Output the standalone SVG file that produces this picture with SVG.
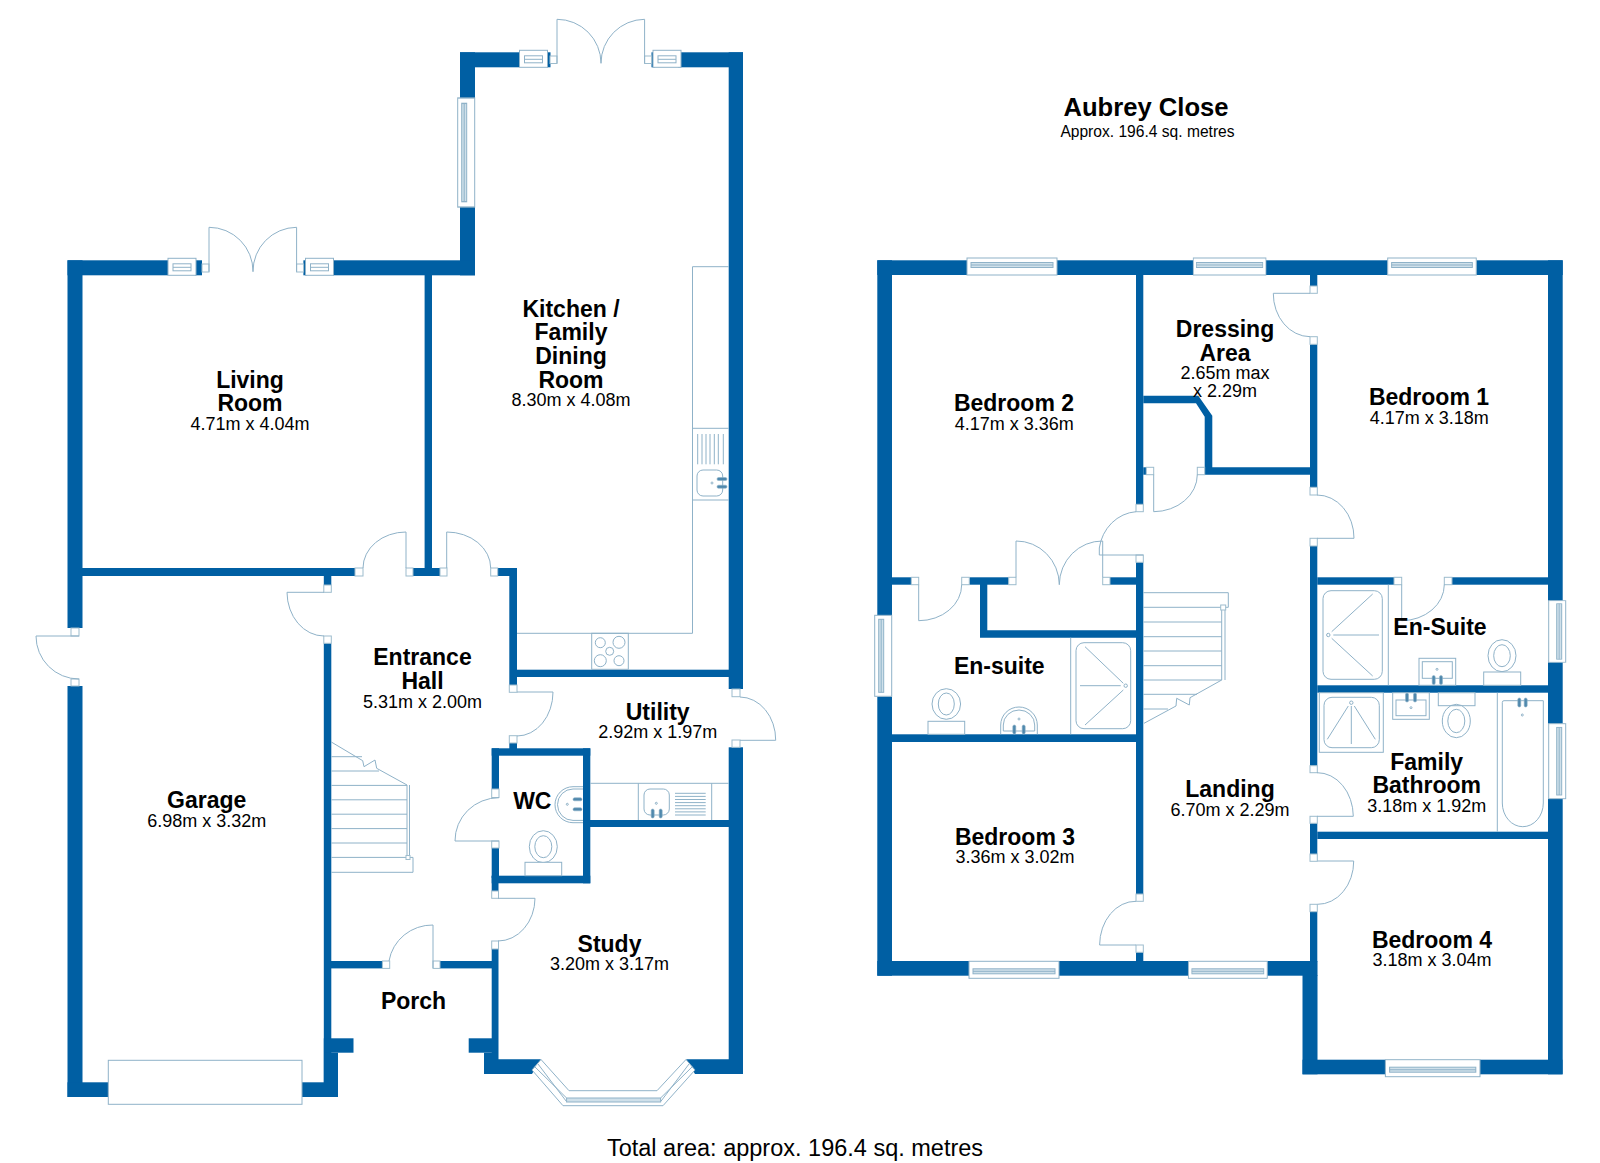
<svg xmlns="http://www.w3.org/2000/svg" width="1600" height="1163" viewBox="0 0 1600 1163">
<style>
.bg{fill:#fff}
.w{fill:#005fa3}
.l{fill:none;stroke:#8fb2c8;stroke-width:1}
.g{fill:#fff;stroke:#8fb2c8;stroke-width:1}
.t{fill:#4f88ad;stroke:#8fb2c8;stroke-width:.6}
.j{fill:#fff;stroke:#9dbccd;stroke-width:1}
.gl{fill:#cfe0ea;stroke:#8fb2c8;stroke-width:1}
text{font-family:"Liberation Sans",Arial,sans-serif;fill:#000;text-anchor:middle}
.n{font-size:23px;font-weight:bold}
.d{font-size:18px}
</style>
<defs>
<g id="wh"><rect class="g" x="0" y="0" width="90" height="17"/><rect class="gl" x="4" y="4.5" width="82" height="5"/><path class="l" d="M4 7H86"/></g>
<g id="wv"><rect class="g" x="0" y="0" width="17" height="81"/><rect class="gl" x="4" y="4" width="5" height="73"/><path class="l" d="M6.5 4V77"/></g>
<g id="ws"><rect class="g" x="0" y="0" width="28" height="17"/><rect class="l" x="5" y="5.500" width="18" height="7"/><path class="l" d="M5 9H23"/></g>
</defs>
<rect class="bg" width="1600" height="1163"/>

<g id="ground-walls">
<rect class="w" x="460" y="52.3" width="59" height="15"/>
<rect class="w" x="547" y="52.3" width="3.5" height="15"/>
<rect class="w" x="651.5" y="52.3" width="3.5" height="15"/>
<rect class="w" x="678" y="52.3" width="65" height="15"/>
<rect class="w" x="460" y="52.3" width="15" height="46"/>
<rect class="w" x="460" y="207" width="15" height="68.3"/>
<rect class="w" x="728.7" y="52.3" width="14.3" height="636.7"/>
<rect class="w" x="728.7" y="747.3" width="14.3" height="326.7"/>
<rect class="w" x="67.5" y="260.3" width="100.5" height="15"/>
<rect class="w" x="195" y="260.3" width="7" height="15"/>
<rect class="w" x="303.4" y="260.3" width="3.6" height="15"/>
<rect class="w" x="333" y="260.3" width="142" height="15"/>
<rect class="w" x="67.5" y="260.3" width="15" height="367.7"/>
<rect class="w" x="67.5" y="686" width="15" height="411"/>
<rect class="w" x="424.6" y="275" width="7.4" height="301"/>
<rect class="w" x="413" y="568" width="27" height="8"/>
<rect class="w" x="82" y="568" width="273" height="8"/>
<rect class="w" x="323.8" y="576" width="7.5" height="9"/>
<rect class="w" x="323.8" y="643.3" width="7.5" height="453.7"/>
<rect class="w" x="67.5" y="1082.3" width="41" height="14.7"/>
<rect class="w" x="302" y="1082.3" width="36" height="14.7"/>
<rect class="w" x="323.8" y="1052.7" width="14.2" height="44.3"/>
<rect class="w" x="323.8" y="1038.3" width="29.7" height="14.4"/>
<rect class="w" x="330" y="961" width="52.4" height="7.4"/>
<rect class="w" x="440" y="961" width="52" height="7.4"/>
<rect class="w" x="491.7" y="949" width="6.8" height="125"/>
<rect class="w" x="468.7" y="1038.3" width="29" height="14.4"/>
<rect class="w" x="491.7" y="875.7" width="98.6" height="7.6"/>
<rect class="w" x="491.7" y="875.7" width="6.8" height="15.3"/>
<rect class="w" x="583" y="748.3" width="7.3" height="135"/>
<rect class="w" x="491.7" y="748.3" width="98.6" height="7.4"/>
<rect class="w" x="491.7" y="748.3" width="7.3" height="41"/>
<rect class="w" x="491.7" y="848" width="7.3" height="30"/>
<rect class="w" x="590" y="820" width="139" height="7"/>
<rect class="w" x="517" y="669.7" width="212" height="7.3"/>
<rect class="w" x="497.7" y="568" width="19.3" height="8"/>
<rect class="w" x="509.3" y="568" width="7.7" height="117"/>
<rect class="w" x="509.3" y="743" width="7.7" height="6"/>
<polygon class="w" points="484,1052.7 498,1052.7 498,1059.3 541,1059.3 532,1074 484,1074"/>
<polygon class="w" points="686,1059.3 743,1059.3 743,1074 695,1074"/>
</g>

<g id="ground-openings">
<use href="#ws" x="168" y="258.3"/>
<use href="#ws" x="305.5" y="258.3"/>
<use href="#ws" x="519.5" y="50.3"/>
<use href="#ws" x="653" y="50.3"/>
<g transform="translate(457.7,98) scale(1,1.346)"><use href="#wv"/></g>
<rect class="j" x="202" y="264" width="7" height="8"/><rect class="j" x="296.6" y="264" width="7" height="8"/>
<rect class="j" x="550" y="56" width="7" height="7.5"/><rect class="j" x="644.6" y="56" width="7" height="7.5"/>
<rect class="j" x="71" y="628" width="8" height="8"/><rect class="j" x="71" y="679" width="8" height="7"/>
<rect class="j" x="355" y="568" width="8" height="8"/><rect class="j" x="406" y="568" width="7" height="8"/>
<rect class="j" x="440" y="568" width="7" height="8"/><rect class="j" x="490.7" y="568" width="7" height="8"/>
<rect class="j" x="323.8" y="585" width="7.5" height="7.3"/><rect class="j" x="323.8" y="636" width="7.5" height="7.3"/>
<rect class="j" x="509.3" y="685" width="7.7" height="7.3"/><rect class="j" x="509.3" y="735.7" width="7.7" height="7.3"/>
<rect class="j" x="732" y="689" width="8" height="7.7"/><rect class="j" x="732" y="740" width="8" height="7.3"/>
<rect class="j" x="491.7" y="789" width="7.3" height="8.5"/><rect class="j" x="491.7" y="841" width="7.3" height="7"/>
<rect class="j" x="491.7" y="891" width="6.8" height="7.3"/><rect class="j" x="491.7" y="941" width="6.8" height="8"/>
<rect class="j" x="382.4" y="961" width="7.3" height="7.4"/><rect class="j" x="433" y="961" width="7" height="7.4"/>
<rect class="g" x="108.3" y="1060.3" width="193.7" height="44"/>
<polygon class="g" points="532,1070 541,1059.5 569,1090.7 657,1090.7 686,1059.5 695,1070 663,1105.7 563,1105.7"/>
<path class="l" d="M535 1067L566.600 1098M538 1064L566.600 1101.700M692 1067L660.600 1098M689 1064L660.600 1101.700"/>
<rect class="gl" x="566.600" y="1098" width="94" height="4"/>
<path class="l" d="M209 271.700V227.300A44 44 0 0 1 253 271.700M296.600 271.700V227.300A44 44 0 0 0 253 271.700"/>
<path class="l" d="M557 63.300V19.300A44 44 0 0 1 601 63.300M644.600 63.300V19.300A44 44 0 0 0 601 63.300"/>
<path class="l" d="M79 636H36A43 43 0 0 0 79 679"/>
<path class="l" d="M406 568V532A43 36 0 0 0 363 568"/>
<path class="l" d="M446.700 568V532A44 36 0 0 1 490.700 568"/>
<path class="l" d="M324 592.300H287A37 44 0 0 0 324 636"/>
<path class="l" d="M517 692H553A36 44 0 0 1 517 736"/>
<path class="l" d="M740 740.300H775.700A36 43 0 0 0 740 697"/>
<path class="l" d="M499 841H455A44 43 0 0 1 499 797.700"/>
<path class="l" d="M498 898.300H535A37 43 0 0 1 498 941"/>
<path class="l" d="M433 968V925A44 43 0 0 0 389 961"/>
</g>

<g id="ground-fixtures">
<path class="l" d="M728.700 266.700H692.500V633.300H517M692.500 428.300H728.700M692.500 500H728.700"/>
<rect class="l" x="591.700" y="633.300" width="36.600" height="36"/>
<circle class="l" cx="600.300" cy="642.700" r="5"/><circle class="l" cx="619" cy="642.300" r="6"/><circle class="l" cx="609.700" cy="651.300" r="4"/><circle class="l" cx="600.300" cy="660.700" r="6"/><circle class="l" cx="619" cy="660.700" r="5"/>
<path class="l" d="M697.700 434V464.300M702 434V464.300M706 434V464.300M710 434V464.300M714.300 434V464.300M718.300 434V464.300M723.300 434V464.300"/>
<rect class="l" x="697" y="470" width="25.700" height="26" rx="6"/>
<circle class="l" cx="712" cy="483" r="1"/>
<rect class="t" x="717" y="477.500" width="10" height="3" rx="1.500"/><rect class="t" x="717" y="485.200" width="10" height="3" rx="1.500"/>
<path class="l" d="M331.300 742L362.700 760.700L364 766.700L375 760L376.700 768.300L407 785V857.400M409.500 785V857.400M331.300 756.700H362M331.300 771H379M331.300 785.400H407M331.300 799.800H407M331.300 814.200H407M331.300 828.600H407M331.300 843H407M331.300 857.400H413V872.300H331.300"/>
<rect class="j" x="406" y="855.500" width="4" height="4"/>
<path class="l" d="M590.300 783.300H728.700M638.300 783.300V820M711.700 783.300V820"/>
<rect class="l" x="644" y="789" width="25.300" height="26" rx="6"/>
<circle class="l" cx="656.300" cy="803.300" r="1"/>
<path class="l" d="M675 793.300H705.700M675 796.400H705.700M675 799.500H705.700M675 802.600H705.700M675 805.700H705.700M675 808.800H705.700M675 811.900H705.700M675 815H705.700"/>
<rect class="t" x="651.200" y="809" width="3" height="9" rx="1.500"/><rect class="t" x="659.200" y="809" width="3" height="9" rx="1.500"/>
<path class="l" d="M583 786.700H573A18 18 0 0 0 573 822.700H583M583 789H573A15.500 15.700 0 0 0 573 820.400H583"/>
<circle class="l" cx="567.300" cy="804.300" r="1"/>
<rect class="t" x="573" y="797.800" width="9" height="3" rx="1.500"/><rect class="t" x="573" y="807.800" width="9" height="3" rx="1.500"/>
<ellipse class="l" cx="543.300" cy="846.700" rx="14" ry="16"/><ellipse class="l" cx="543.300" cy="846.700" rx="8.500" ry="11"/>
<rect class="g" x="525" y="862.300" width="36.700" height="13.400"/>
</g>

<g id="upper-walls">
<rect class="w" x="877.300" y="260.300" width="89.700" height="14.700"/>
<rect class="w" x="1057" y="260.300" width="136.300" height="14.700"/>
<rect class="w" x="1266" y="260.300" width="121.700" height="14.700"/>
<rect class="w" x="1476.300" y="260.300" width="86.400" height="14.700"/>
<rect class="w" x="877.300" y="260.300" width="14.700" height="355"/>
<rect class="w" x="877.300" y="696.700" width="14.700" height="279"/>
<rect class="w" x="877.300" y="961" width="91.700" height="14.700"/>
<rect class="w" x="1059" y="961" width="129.400" height="14.700"/>
<rect class="w" x="1267.200" y="961" width="50.300" height="14.700"/>
<rect class="w" x="1136" y="275" width="7.300" height="229.300"/>
<rect class="w" x="1136" y="562.300" width="7.300" height="331.700"/>
<rect class="w" x="1136" y="952.300" width="7.300" height="9"/>
<polygon class="w" points="1143.300,395.700 1198.300,395.700 1212.300,415.700 1212.300,467.300 1317,467.300 1317,474.700 1204.700,474.700 1204.700,416.700 1196,403.300 1143.300,403.300"/>
<rect class="w" x="1143.300" y="467.300" width="3" height="7.400"/>
<rect class="w" x="892" y="577.300" width="19.300" height="7.400"/>
<rect class="w" x="969.300" y="577.300" width="39.400" height="7.400"/>
<rect class="w" x="1110" y="577.300" width="26" height="7.400"/>
<polygon class="w" points="980,584 987.300,584 987.300,630.300 1136,630.300 1136,637.700 980,637.700"/>
<rect class="w" x="892" y="734.300" width="244" height="7.700"/>
<rect class="w" x="1310" y="275" width="7.300" height="11"/>
<rect class="w" x="1310" y="344.300" width="7.300" height="143"/>
<rect class="w" x="1310" y="546" width="7.300" height="219.700"/>
<rect class="w" x="1310" y="823.300" width="7.300" height="30.700"/>
<rect class="w" x="1310" y="911.700" width="7.300" height="50"/>
<rect class="w" x="1302.500" y="975" width="15" height="99.300"/>
<rect class="w" x="1302.500" y="1059.700" width="82.900" height="14.600"/>
<rect class="w" x="1480" y="1059.700" width="82.500" height="14.600"/>
<rect class="w" x="1317.300" y="577.300" width="76.700" height="7.400"/>
<rect class="w" x="1452" y="577.300" width="96.300" height="7.400"/>
<rect class="w" x="1317.300" y="685.300" width="231" height="7.400"/>
<rect class="w" x="1317.300" y="831.700" width="231" height="7.300"/>
<rect class="w" x="1548" y="260.300" width="14.700" height="340.400"/>
<rect class="w" x="1548" y="662.300" width="14.700" height="61.400"/>
<rect class="w" x="1548" y="798.700" width="14.700" height="275.600"/>
</g>

<g id="upper-openings">
<use href="#wh" x="967" y="258"/>
<g transform="translate(1193.300,258) scale(.807,1)"><use href="#wh"/></g>
<g transform="translate(1387.700,258) scale(.984,1)"><use href="#wh"/></g>
<g transform="translate(969,978.300) scale(1,-1)"><use href="#wh"/></g>
<g transform="translate(1188.400,978.300) scale(.876,-1)"><use href="#wh"/></g>
<g transform="translate(1385.400,1076.700) scale(1.051,-1)"><use href="#wh"/></g>
<g transform="translate(874.700,615.300)"><use href="#wv"/></g>
<g transform="translate(1565.700,600.700) scale(-1,.76)"><use href="#wv"/></g>
<g transform="translate(1565.700,723.700) scale(-1,.926)"><use href="#wv"/></g>
<rect class="j" x="911.300" y="577.300" width="7.400" height="7.400"/><rect class="j" x="961.700" y="577.300" width="7.600" height="7.400"/>
<rect class="j" x="1008.700" y="577.300" width="7.300" height="7.400"/><rect class="j" x="1102.700" y="577.300" width="7.300" height="7.400"/>
<rect class="j" x="1136" y="504.300" width="7.300" height="7.400"/><rect class="j" x="1136" y="555" width="7.300" height="7.300"/>
<rect class="j" x="1146.300" y="467.300" width="7.400" height="7.400"/><rect class="j" x="1197.300" y="467.300" width="7.400" height="7.400"/>
<rect class="j" x="1310" y="286" width="7.300" height="7.300"/><rect class="j" x="1310" y="336.700" width="7.300" height="7.600"/>
<rect class="j" x="1310" y="487.300" width="7.300" height="7.700"/><rect class="j" x="1310" y="538.300" width="7.300" height="7.700"/>
<rect class="j" x="1394" y="577.300" width="7.700" height="7.400"/><rect class="j" x="1444.300" y="577.300" width="7.700" height="7.400"/>
<rect class="j" x="1310" y="765.700" width="7.300" height="7"/><rect class="j" x="1310" y="816.300" width="7.300" height="7"/>
<rect class="j" x="1310" y="854" width="7.300" height="7.300"/><rect class="j" x="1310" y="904.300" width="7.300" height="7.400"/>
<rect class="j" x="1136" y="894" width="7.300" height="7.300"/><rect class="j" x="1136" y="945" width="7.300" height="7.300"/>
<path class="l" d="M1143.300 555H1099.300V548A40 43 0 0 1 1136 511.700"/>
<path class="l" d="M1153.700 474.700V511.700A44 37 0 0 0 1197.300 474.700"/>
<path class="l" d="M1016 577.300V541A43 44 0 0 1 1059.300 584.700M1102.700 577.300V541A43 44 0 0 0 1059.300 584.700"/>
<path class="l" d="M918.700 584.700V620.700A43 36 0 0 0 961.700 584.700"/>
<path class="l" d="M1310 293.300H1273.300A37 43 0 0 0 1310 336.700"/>
<path class="l" d="M1317 538.300H1354A37 43 0 0 0 1317 495"/>
<path class="l" d="M1401.700 584.700V620.700A43 36 0 0 0 1444.300 584.700"/>
<path class="l" d="M1317 816.300H1353.300A36 44 0 0 0 1317 772.700"/>
<path class="l" d="M1136 945H1099.600A36 44 0 0 1 1136 901.300"/>
<path class="l" d="M1317.500 861H1353.700A36 43 0 0 1 1317.500 904.300"/>
</g>

<g id="upper-fixtures">
<path class="l" d="M1143.300 592.700H1228.300V607.300H1225V680M1221.700 607.300V680L1190 697.700L1189.300 705L1176.700 698.300L1176 706L1144 723.300M1143.300 607.300H1221.700M1143.300 622H1221.700M1143.300 636.700H1221.700M1143.300 651H1221.700M1143.300 665.700H1221.700M1143.300 680H1221.700M1143.300 694.300H1197M1143.300 709H1168"/>
<rect class="j" x="1220.700" y="605" width="5" height="5"/>
<path class="l" d="M1070.700 637.700V734.300"/>
<rect class="l" x="1076" y="642.700" width="54.700" height="86" rx="8"/>
<path class="l" d="M1085 646.700L1123.300 683.300M1080 685.700H1120.700M1085 725L1123.300 690"/><circle class="l" cx="1125.700" cy="685.700" r="1.700"/>
<ellipse class="l" cx="946.300" cy="704" rx="14.300" ry="15.300"/><ellipse class="l" cx="946.300" cy="704" rx="8" ry="11"/>
<rect class="g" x="928" y="721.300" width="36.700" height="13"/>
<path class="l" d="M1000.700 734.300V725A18.300 18 0 0 1 1037.300 725V734.300M1003.300 731V725A15.700 15 0 0 1 1034.700 725V731H1003.300"/>
<circle class="l" cx="1019" cy="719" r="1"/>
<rect class="t" x="1012.800" y="725" width="3" height="9" rx="1.500"/><rect class="t" x="1022.200" y="725" width="3" height="9" rx="1.500"/>
<path class="l" d="M1388.300 584.700V685.300"/>
<rect class="l" x="1323" y="590.700" width="59.300" height="88.600" rx="8"/>
<path class="l" d="M1333.300 635H1379M1331.700 631.700L1372.700 594M1331.700 638.300L1372.700 676"/><circle class="l" cx="1328.300" cy="635" r="1.700"/>
<rect class="l" x="1419" y="658.300" width="36.700" height="27"/><rect class="l" x="1422.300" y="661.700" width="30" height="16.600"/>
<circle class="l" cx="1437" cy="669.300" r="1"/>
<rect class="t" x="1432.200" y="675.500" width="3" height="9" rx="1.500"/><rect class="t" x="1439.500" y="675.500" width="3" height="9" rx="1.500"/>
<ellipse class="l" cx="1502" cy="655.700" rx="14" ry="16"/><ellipse class="l" cx="1502" cy="655.700" rx="8.300" ry="11"/>
<rect class="g" x="1483.700" y="672" width="37" height="13.300"/>
<rect class="l" x="1319.300" y="692.700" width="64" height="59.600"/><rect class="l" x="1324" y="697.300" width="55.300" height="50.400" rx="8"/>
<path class="l" d="M1351.300 706V744M1348.300 706L1327.300 739.300M1354.300 706L1375.300 739.300"/><circle class="l" cx="1351.300" cy="702.700" r="1.700"/>
<rect class="l" x="1392.700" y="692.700" width="36.600" height="26.600"/><rect class="l" x="1396" y="700" width="30" height="15.700"/>
<circle class="l" cx="1411" cy="707.700" r="1"/>
<rect class="t" x="1405.500" y="693" width="3" height="9" rx="1.500"/><rect class="t" x="1413.500" y="693" width="3" height="9" rx="1.500"/>
<rect class="g" x="1438.300" y="692.700" width="36.700" height="13"/>
<ellipse class="l" cx="1456.300" cy="721" rx="14" ry="16.700"/><ellipse class="l" cx="1456.300" cy="721" rx="8.500" ry="11.700"/>
<path class="l" d="M1497.300 692.700V831.700M1504 700.700H1543.300V803A20.500 23.700 0 0 1 1502.300 803V702.400A1.700 1.700 0 0 1 1504 700.700"/>
<circle class="l" cx="1522.300" cy="715" r="1"/>
<rect class="t" x="1517.800" y="698" width="3" height="9" rx="1.500"/><rect class="t" x="1524.200" y="698" width="3" height="9" rx="1.500"/>
</g>

<g id="labels">
<text class="n" x="1146" y="116" style="font-size:25.6px">Aubrey Close</text>
<text x="1147.500" y="137" style="font-size:15.6px">Approx. 196.4 sq. metres</text>
<text x="795" y="1156" style="font-size:23.500px">Total area: approx. 196.4 sq. metres</text>
<g id="kitchen-label"><text class="n" x="571" y="316.700">Kitchen /</text><text class="n" x="571" y="340">Family</text><text class="n" x="571" y="364">Dining</text><text class="n" x="571" y="387.700">Room</text><text class="d" x="571" y="406">8.30m x 4.08m</text></g>
<g id="living-label"><text class="n" x="250" y="387.700">Living</text><text class="n" x="250" y="411">Room</text><text class="d" x="250" y="430">4.71m x 4.04m</text></g>
<g id="hall-label"><text class="n" x="422.500" y="665">Entrance</text><text class="n" x="422.500" y="689">Hall</text><text class="d" x="422.500" y="707.700">5.31m x 2.00m</text></g>
<g id="garage-label"><text class="n" x="206.700" y="808.300">Garage</text><text class="d" x="206.700" y="826.700">6.98m x 3.32m</text></g>
<g id="utility-label"><text class="n" x="657.700" y="720">Utility</text><text class="d" x="657.700" y="738.300">2.92m x 1.97m</text></g>
<g id="wc-label"><text class="n" x="532.300" y="809.300">WC</text></g>
<g id="study-label"><text class="n" x="609.500" y="951.700">Study</text><text class="d" x="609.500" y="970">3.20m x 3.17m</text></g>
<g id="porch-label"><text class="n" x="413.500" y="1009.300">Porch</text></g>
<g id="bed2-label"><text class="n" x="1014" y="411">Bedroom 2</text><text class="d" x="1014.300" y="430">4.17m x 3.36m</text></g>
<g id="dressing-label"><text class="n" x="1225" y="337.300">Dressing</text><text class="n" x="1225" y="361">Area</text><text class="d" x="1225" y="379.300">2.65m max</text><text class="d" x="1225" y="397.300">x 2.29m</text></g>
<g id="bed1-label"><text class="n" x="1429" y="405">Bedroom 1</text><text class="d" x="1429.300" y="424">4.17m x 3.18m</text></g>
<g id="ensuite1-label"><text class="n" x="999.300" y="674">En-suite</text></g>
<g id="ensuite2-label"><text class="n" x="1440" y="635">En-Suite</text></g>
<g id="bath-label"><text class="n" x="1426.700" y="770">Family</text><text class="n" x="1426.700" y="793.400">Bathroom</text><text class="d" x="1426.700" y="811.700">3.18m x 1.92m</text></g>
<g id="landing-label"><text class="n" x="1230" y="797">Landing</text><text class="d" x="1230" y="815.700">6.70m x 2.29m</text></g>
<g id="bed3-label"><text class="n" x="1015" y="845">Bedroom 3</text><text class="d" x="1015" y="862.700">3.36m x 3.02m</text></g>
<g id="bed4-label"><text class="n" x="1432" y="948">Bedroom 4</text><text class="d" x="1432" y="966">3.18m x 3.04m</text></g>
</g>
</svg>
